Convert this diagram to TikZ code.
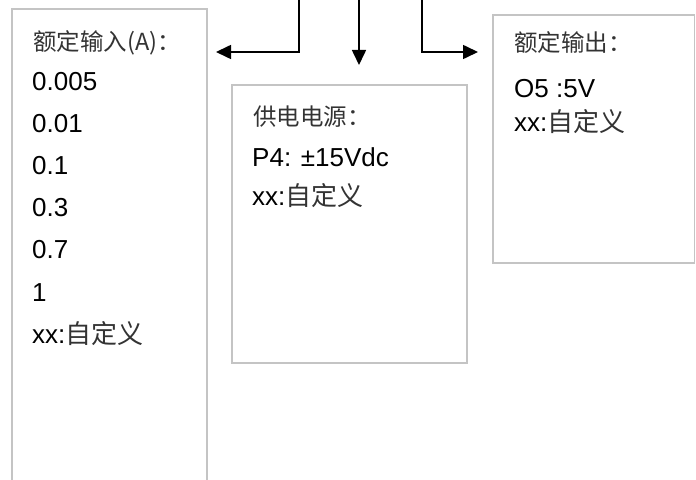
\documentclass[tikz,border=0pt]{standalone}
\usepackage{fontspec}
\setmainfont{Liberation Sans}
\newfontfamily\cjk{Noto Sans CJK SC}
\usetikzlibrary{arrows.meta}
\definecolor{boxgray}{HTML}{C4C4C4}
\definecolor{cjkgray}{HTML}{333333}
\begin{document}
\begin{tikzpicture}[x=1bp,y=-1bp,
  box/.style={draw=boxgray, line width=1.8bp},
  txt/.style={anchor=base west, inner sep=0, font=\fontsize{26bp}{30bp}\selectfont},
  head/.style={anchor=base west, inner sep=0, text=cjkgray, font=\cjk\fontsize{23.5bp}{28bp}\selectfont},
  conn/.style={line width=1.6bp, -{Triangle[length=15bp,width=14bp]}}]
\newcommand{\zdy}{{\color{cjkgray}\cjk 自定义}}
\useasboundingbox (0,0) rectangle (696,480);
\clip (0,0) rectangle (696,480);
% boxes
\draw[box] (12,9) rectangle (207,495);
\draw[box] (232,85) rectangle (467,363);
\draw[box] (493,15) rectangle (694.5,263);
% left box text
\node[head] (hL) at (33,51) {额定输入(A)：};
\node[txt] (l1) at (32,91) {0.005};
\node[txt] (l2) at (32,133) {0.01};
\node[txt] (l3) at (32,175) {0.1};
\node[txt] (l4) at (32,217) {0.3};
\node[txt] (l5) at (32,259) {0.7};
\node[txt] (l6) at (32,301) {1};
\node[txt] (l7) at (32,343) {xx:\zdy};
% middle box text
\node[head] (hM) at (253,126) {供电电源：};
\node[txt] (m1) at (252,167) {P4: ±15Vdc};
\node[txt] (m2) at (252,206) {xx:\zdy};
% right box text
\node[head] (hR) at (514,52) {额定输出：};
\node[txt] (r1) at (514,98) {O5 :5V};
\node[txt] (r2) at (514,132) {xx:\zdy};
% connectors
\coordinate (inL) at (299,-2);
\coordinate (inM) at (359,-2);
\coordinate (inR) at (422,-2);
\coordinate (tipL) at (216,52);
\coordinate (tipM) at (359,65);
\coordinate (tipR) at (478,52);
\draw[conn] (inL) |- (tipL);
\draw[conn] (inM) -- (tipM);
\draw[conn] (inR) |- (tipR);
\end{tikzpicture}
\end{document}
